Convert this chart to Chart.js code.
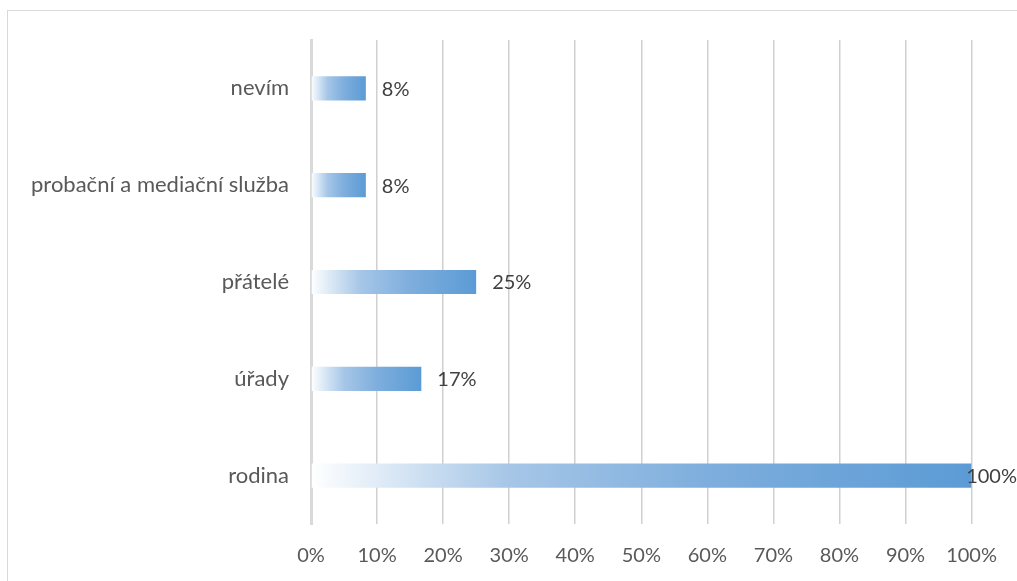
<!DOCTYPE html>
<html>
<head>
<meta charset="utf-8">
<script src="https://cdn.jsdelivr.net/npm/chart.js@4"></script>
<style>
  html, body { margin: 0; padding: 0; background: #fff; }
  #wrap { width: 1017px; height: 581px; position: relative; }
</style>
</head>
<body>
<div id="wrap"><canvas id="barChart"></canvas></div>
<script>
const categories = ["nevím", "probační a mediační služba", "přátelé", "úřady", "rodina"];
const values = [8.3, 8.3, 25, 16.7, 100];
const tickLabels = ["0%", "10%", "20%", "30%", "40%", "50%", "60%", "70%", "80%", "90%", "100%"];

const FONT = "Lato, 'Open Sans', sans-serif";

// gradient per bar, white at the axis to blue at the end
function barGradient(ctx) {
  const chart = ctx.chart;
  const xs = chart.scales.x;
  if (!chart.chartArea || !xs || ctx.dataIndex === undefined) return "#5b9bd5";
  const x0 = xs.getPixelForValue(0);
  const x1 = xs.getPixelForValue(values[ctx.dataIndex]);
  if (!isFinite(x0) || !isFinite(x1)) return "#5b9bd5";
  const g = chart.ctx.createLinearGradient(x0, 0, x1, 0);
  g.addColorStop(0, "#ffffff");
  g.addColorStop(0.1, "#e0ecf7");
  g.addColorStop(0.3, "#a6c6e7");
  g.addColorStop(0.6, "#7eaedd");
  g.addColorStop(1, "#5b9bd5");
  return g;
}

const frame = {
  id: "frame",
  beforeDraw(chart) {
    const c = chart.ctx;
    c.save();
    c.fillStyle = "#ffffff";
    c.fillRect(0, 0, chart.width, chart.height);
    c.strokeStyle = "#d9d9d9";
    c.lineWidth = 1;
    c.strokeRect(7.5, 10.5, chart.width, chart.height);
    c.restore();
  }
};

const valueLabels = {
  id: "valueLabels",
  afterDatasetsDraw(chart) {
    const c = chart.ctx;
    const meta = chart.getDatasetMeta(0);
    c.save();
    c.font = "20px " + FONT;
    c.fillStyle = "#404040";
    c.textBaseline = "middle";
    meta.data.forEach((bar, i) => {
      const txt = Math.round(values[i]) + "%";
      const w = c.measureText(txt).width;
      let x = bar.x + 16;
      if (x + w > chart.width) x = chart.width - w;
      c.fillText(txt, x, bar.y + 1);
    });
    c.restore();
  }
};

new Chart(document.getElementById("barChart"), {
  type: "bar",
  data: {
    labels: categories,
    datasets: [{
      data: values,
      backgroundColor: barGradient,
      borderWidth: 0,
      categoryPercentage: 0.5,
      barPercentage: 0.5
    }]
  },
  plugins: [frame, valueLabels],
  options: {
    indexAxis: "y",
    responsive: true,
    maintainAspectRatio: false,
    animation: false,
    layout: { padding: { top: 40, right: 45, left: 0, bottom: 0 } },
    plugins: { legend: { display: false }, tooltip: { enabled: false } },
    scales: {
      x: {
        min: 0,
        max: 100,
        afterFit(scale) { scale.height = 57; },
        border: { display: false },
        grid: {
          drawTicks: false,
          lineWidth: 1.5,
          color: (ctx) => ctx.index === 0 ? "rgba(0,0,0,0)" : "#d0d0d0"
        },
        ticks: {
          stepSize: 10,
          padding: 20,
          color: "#595959",
          font: { family: FONT, size: 20 },
          callback: (v, i) => tickLabels[i]
        }
      },
      y: {
        afterFit(scale) { scale.width = 311; },
        border: { display: true, color: "#d9d9d9", width: 3 },
        grid: { display: false, drawTicks: false },
        ticks: {
          padding: 22,
          color: "#595959",
          font: { family: FONT, size: 22 }
        }
      }
    }
  }
});
</script>
</body>
</html>
